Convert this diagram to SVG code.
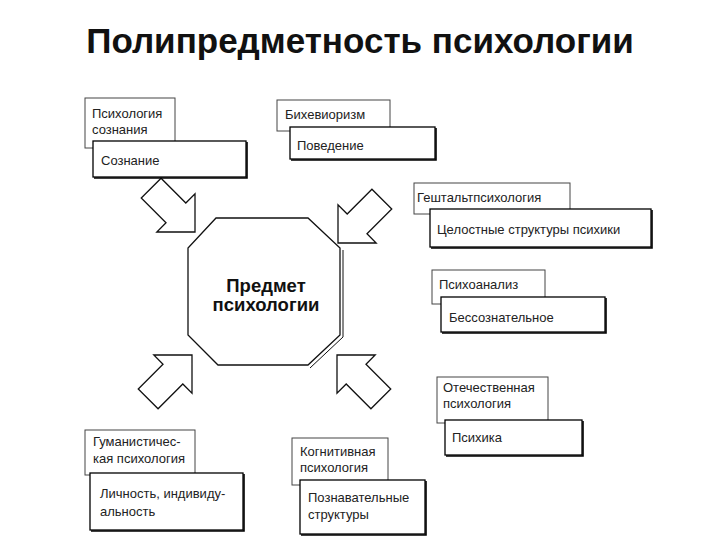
<svg xmlns="http://www.w3.org/2000/svg" width="720" height="540" viewBox="0 0 720 540">
<defs>
<style>
.title{font-family:"Liberation Sans",Arial,sans-serif;font-size:35px;font-weight:bold;fill:#111}
.t{font-family:"Liberation Sans",Arial,sans-serif;font-size:13px;fill:#222}
.c{font-family:"Liberation Sans",Arial,sans-serif;font-size:18.5px;font-weight:bold;fill:#111}
.back{fill:#fff;stroke:#444;stroke-width:1}
.front{fill:#fff;stroke:#000;stroke-width:1.3}
.sh{fill:none;stroke:#000;stroke-width:1.6}
.arr{fill:#fff;stroke:#111;stroke-width:1.3;stroke-linejoin:miter}
</style>
<polygon id="ar" points="0,0 -27,-27 -27,-14 -62,-14 -62,14 -27,14 -27,27"/>
</defs>
<rect width="720" height="540" fill="#fff"/>
<text class="title" x="360" y="53" text-anchor="middle">Полипредметность психологии</text>

<g id="center">
<polygon points="216,218 308,218 340,248 340,335 308,365 218,365 188,335 188,248" fill="#fff" stroke="#111" stroke-width="1.3"/>
<polyline points="343,250 343,337 310,368" fill="none" stroke="#111" stroke-width="1"/>
<text class="c" x="266" y="292" text-anchor="middle">Предмет</text>
<text class="c" x="266" y="311" text-anchor="middle">психологии</text>
</g>

<g id="connectors">
<use href="#ar" class="arr" transform="translate(195,232) rotate(45)"/>
<use href="#ar" class="arr" transform="translate(338,243) rotate(135)"/>
<use href="#ar" class="arr" transform="translate(192,355) rotate(-45)"/>
<use href="#ar" class="arr" transform="translate(337,355) rotate(-135)"/>
</g>

<g id="n1">
<rect class="back" x="85" y="98" width="90" height="50"/>
<text class="t" x="92" y="118">Психология</text>
<text class="t" x="92" y="134">сознания</text>
<rect class="front" x="93" y="141" width="153" height="36"/>
<polyline class="sh" points="247,142 247,178 94,178"/>
<text class="t" x="101" y="165">Сознание</text>
</g>

<g id="n2">
<rect class="back" x="277" y="100" width="113" height="31"/>
<text class="t" x="285" y="119">Бихевиоризм</text>
<rect class="front" x="290" y="127" width="145" height="32"/>
<polyline class="sh" points="436,128 436,160 291,160"/>
<text class="t" x="297" y="150">Поведение</text>
</g>

<g id="n3">
<rect class="back" x="414" y="183" width="156" height="31"/>
<text class="t" x="417" y="202">Гештальтпсихология</text>
<rect class="front" x="430" y="209" width="221" height="38"/>
<polyline class="sh" points="652,210 652,248 431,248"/>
<text class="t" x="437" y="234">Целостные структуры психики</text>
</g>

<g id="n4">
<rect class="back" x="432" y="270" width="113" height="34"/>
<text class="t" x="439" y="289">Психоанализ</text>
<rect class="front" x="441" y="297" width="164" height="35"/>
<polyline class="sh" points="606,298 606,333 442,333"/>
<text class="t" x="449" y="322">Бессознательное</text>
</g>

<g id="n5">
<rect class="back" x="437" y="377" width="111" height="46"/>
<text class="t" x="443" y="392">Отечественная</text>
<text class="t" x="443" y="408">психология</text>
<rect class="front" x="445" y="420" width="137" height="35"/>
<polyline class="sh" points="583,421 583,456 446,456"/>
<text class="t" x="452" y="442">Психика</text>
</g>

<g id="n6">
<rect class="back" x="85" y="430" width="110" height="45"/>
<text class="t" x="93" y="446">Гуманистичес-</text>
<text class="t" x="93" y="463">кая психология</text>
<rect class="front" x="90" y="473" width="153" height="57"/>
<polyline class="sh" points="244,474 244,531 91,531"/>
<text class="t" x="100" y="498">Личность, индивиду-</text>
<text class="t" x="100" y="516">альность</text>
</g>

<g id="n7">
<rect class="back" x="292" y="438" width="96" height="47"/>
<text class="t" x="300" y="456">Когнитивная</text>
<text class="t" x="300" y="472">психология</text>
<rect class="front" x="300" y="480" width="125" height="54"/>
<polyline class="sh" points="426,481 426,535 301,535"/>
<text class="t" x="308" y="502">Познавательные</text>
<text class="t" x="308" y="519">структуры</text>
</g>
</svg>
